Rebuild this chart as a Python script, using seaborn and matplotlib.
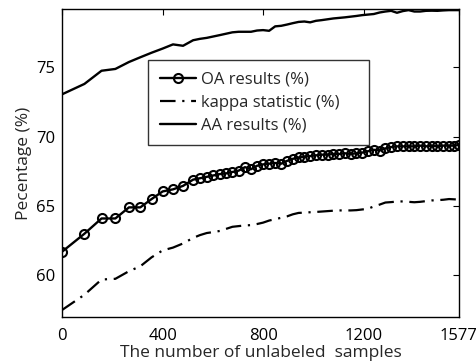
import numpy as np
import pandas as pd
import matplotlib
matplotlib.use("Agg")
import matplotlib.pyplot as plt
import seaborn as sns

samples = [0, 89, 157, 212, 266, 311, 356, 400, 441, 481, 521, 548, 575, 601, 627, 652,
           677, 702, 727, 751, 775, 799, 823, 847, 871, 894, 917, 940, 963, 986, 1009,
           1032, 1055, 1078, 1101, 1124, 1147, 1170, 1193, 1216, 1239, 1262, 1285, 1308,
           1331, 1354, 1377, 1400, 1423, 1446, 1469, 1492, 1515, 1538, 1559, 1577]

oa = [61.7, 63.0, 64.1, 64.1, 64.9, 64.9, 65.5, 66.05, 66.2, 66.45, 66.9, 67.0, 67.1, 67.2,
      67.3, 67.35, 67.45, 67.55, 67.8, 67.65, 67.9, 68.0, 68.05, 68.1, 68.05, 68.25, 68.4,
      68.5, 68.55, 68.6, 68.65, 68.7, 68.7, 68.75, 68.75, 68.8, 68.75, 68.8, 68.85, 68.95,
      69.05, 69.0, 69.15, 69.25, 69.3, 69.3, 69.3, 69.3, 69.35, 69.3, 69.35, 69.3, 69.35,
      69.35, 69.35, 69.4]

kappa = [57.5, 58.6, 59.7, 59.75, 60.3, 60.65, 61.3, 61.8, 62.0, 62.3, 62.7, 62.9, 63.05,
         63.12, 63.2, 63.35, 63.5, 63.55, 63.6, 63.62, 63.7, 63.8, 63.95, 64.05, 64.15, 64.25,
         64.4, 64.5, 64.52, 64.55, 64.57, 64.6, 64.63, 64.66, 64.68, 64.68, 64.68, 64.7,
         64.75, 64.8, 64.97, 65.1, 65.25, 65.28, 65.32, 65.33, 65.3, 65.27, 65.3, 65.35,
         65.4, 65.42, 65.45, 65.5, 65.48, 65.45]

aa = [73.05, 73.8, 74.75, 74.88, 75.38, 75.72, 76.05, 76.35, 76.65, 76.55, 76.95, 77.05,
      77.12, 77.22, 77.32, 77.42, 77.52, 77.56, 77.56, 77.56, 77.65, 77.68, 77.63, 77.95,
      77.99, 78.08, 78.18, 78.27, 78.3, 78.24, 78.35, 78.4, 78.46, 78.52, 78.56, 78.6,
      78.65, 78.7, 78.76, 78.8, 78.84, 78.95, 79.02, 79.07, 78.93, 79.05, 79.12, 79.02,
      79.02, 79.07, 79.08, 79.07, 79.1, 79.12, 79.12, 79.12]

labels = ["OA results (%)", "kappa statistic (%)", "AA results (%)"]
xticks = [0, 400, 800, 1200, 1577]
yticks = [60, 65, 70, 75]

sns.set_style("white")
plt.rcParams['font.family'] = ['Open Sans', 'DejaVu Sans']

fig = plt.figure(figsize=(4.77, 3.61), dpi=100)
ax = fig.add_axes([0.130, 0.122, 0.832, 0.853])

df = pd.DataFrame({"x": samples, "oa": oa, "kappa": kappa, "aa": aa})

sns.lineplot(data=df, x="x", y="oa", ax=ax, color="black", linewidth=1.7,
             marker="o", markersize=6.5, markerfacecolor="none", markeredgecolor="black",
             markeredgewidth=1.5, label=labels[0])
sns.lineplot(data=df, x="x", y="kappa", ax=ax, color="black", linewidth=1.6,
             linestyle=(0, (7, 3, 1, 3)), label=labels[1])
sns.lineplot(data=df, x="x", y="aa", ax=ax, color="black", linewidth=1.7,
             label=labels[2])

ax.set_xlim(0, 1577)
ax.set_ylim(57.0, 79.2)
ax.set_xticks(xticks)
ax.set_yticks(yticks)
ax.tick_params(direction="in", top=True, right=True, length=4, width=0.8,
               labelsize=12, colors="black")
ax.tick_params(axis="x", pad=8)
ax.tick_params(axis="y", pad=5)
for s in ax.spines.values():
    s.set_color("black")
    s.set_linewidth(1.0)

ax.set_xlabel("The number of unlabeled  samples", fontsize=12.5, labelpad=1)
ax.set_ylabel("Pecentage (%)", fontsize=12.5, labelpad=3)

leg = ax.legend(loc="upper left", bbox_to_anchor=(0.217, 0.565, 0.557, 0.269),
                mode="expand", borderaxespad=0,
                fontsize=12, frameon=True, fancybox=False, edgecolor="black",
                handlelength=2.2, borderpad=0.7, labelspacing=0.42, handletextpad=0.3)
leg.get_frame().set_linewidth(1.0)

fig.savefig("out.png", dpi=100)
